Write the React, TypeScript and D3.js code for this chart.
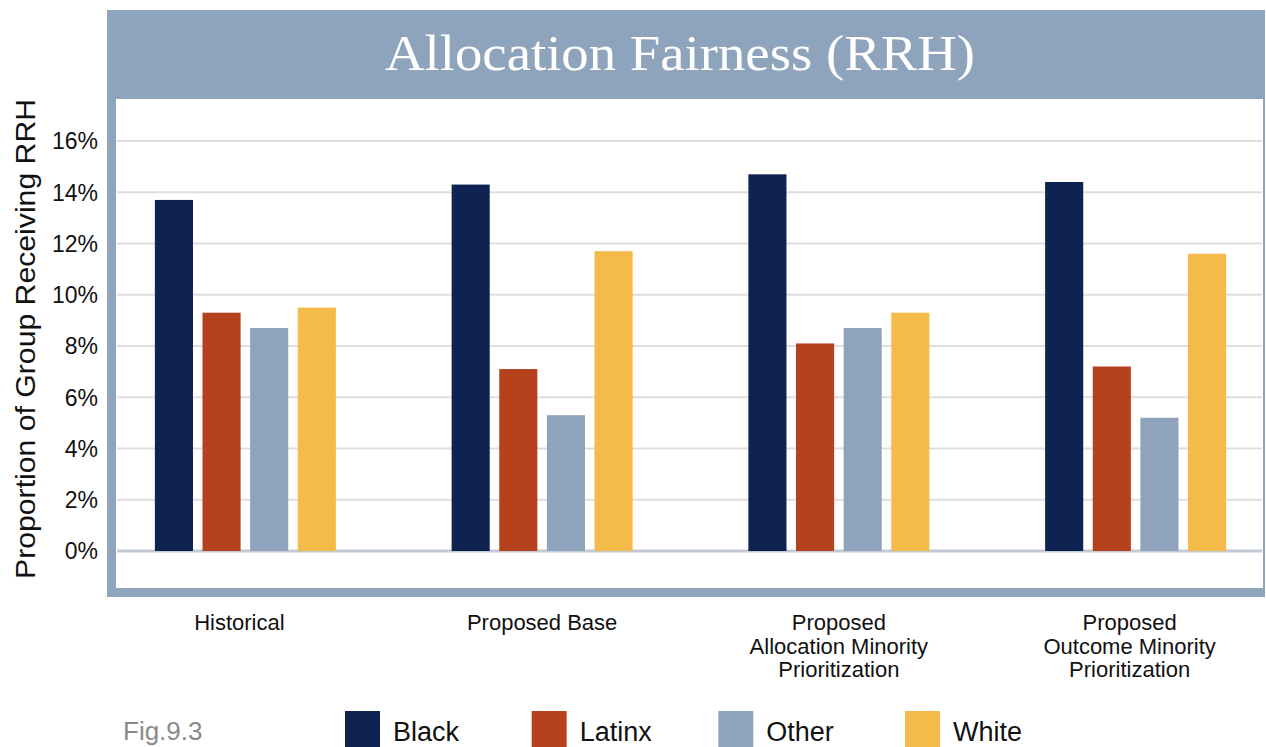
import { useEffect } from 'react';
import * as d3 from 'd3';

const categories = ['Historical', 'Proposed Base', 'Proposed Allocation Minority Prioritization', 'Proposed Outcome Minority Prioritization'];
const categoryLines = [
  ['Historical'],
  ['Proposed Base'],
  ['Proposed', 'Allocation Minority', 'Prioritization'],
  ['Proposed', 'Outcome Minority', 'Prioritization'],
];
const series = ['Black', 'Latinx', 'Other', 'White'];
const black = [13.7, 14.3, 14.7, 14.4];
const latinx = [9.3, 7.1, 8.1, 7.2];
const other = [8.7, 5.3, 8.7, 5.2];
const white = [9.5, 11.7, 9.3, 11.6];
const yTicks = [0, 2, 4, 6, 8, 10, 12, 14, 16];

const colors: Record<string, string> = {
  Black: '#0e2352',
  Latinx: '#b5421d',
  Other: '#8fa3bd',
  White: '#f4bb4a',
};

const values: Record<string, number[]> = { Black: black, Latinx: latinx, Other: other, White: white };

const W = 1266;
const H = 747;
const frameColor = '#8ea4bd';
const sans = '"Liberation Sans", Arial, sans-serif';

export default function App() {
  useEffect(() => {
    document.body.style.margin = '0';
  }, []);

  // plot area
  const y = d3.scaleLinear().domain([0, 16]).range([551, 141]);
  const x0 = d3.scaleBand<string>().domain(categories).range([97, 1284]);
  const groupW = 181;
  const x1 = d3.scaleBand<string>().domain(series).range([0, groupW]).paddingInner(0.2);
  const groupOffset = (x0.bandwidth() - groupW) / 2;

  const legendX = d3.scalePoint<string>().domain(series).range([345, 905]);

  return (
    <svg width={W} height={H} style={{ position: 'absolute', left: 0, top: 0, background: '#fff' }}>
      {/* frame + title band */}
      <rect x={107} y={10} width={1158} height={587} fill={frameColor} />
      <rect x={116} y={99} width={1147} height={489} fill="#fff" />
      <text
        x={680}
        y={70}
        fill="#fff"
        fontFamily='"Liberation Serif", "Times New Roman", serif'
        fontSize={51}
        textAnchor="middle"
        textLength={590}
        lengthAdjust="spacingAndGlyphs"
      >
        Allocation Fairness (RRH)
      </text>

      {/* gridlines */}
      {yTicks.map(t => (
        <line
          key={t}
          x1={117}
          x2={1262}
          y1={y(t)}
          y2={y(t)}
          stroke={t === 0 ? '#c3cad4' : '#dedede'}
          strokeWidth={t === 0 ? 3 : 2}
        />
      ))}

      {/* y tick labels */}
      {yTicks.map(t => (
        <text key={t} x={98} y={y(t)} dy="0.36em" textAnchor="end" fontFamily={sans} fontSize={23} fill="#111">
          {t}%
        </text>
      ))}

      {/* y axis title */}
      <text
        transform="translate(35,339) rotate(-90)"
        textAnchor="middle"
        fontFamily={sans}
        fontSize={28}
        fill="#111"
        textLength={480}
        lengthAdjust="spacingAndGlyphs"
      >
        Proportion of Group Receiving RRH
      </text>

      {/* bars */}
      {categories.map((c, i) => (
        <g key={c} transform={`translate(${(x0(c) ?? 0) + groupOffset},0)`}>
          {series.map(s => (
            <rect
              key={s}
              x={x1(s)}
              y={y(values[s][i])}
              width={x1.bandwidth()}
              height={y(0) - y(values[s][i])}
              fill={colors[s]}
            />
          ))}
        </g>
      ))}

      {/* category labels */}
      {categories.map((c, i) => {
        const cx = (x0(c) ?? 0) + x0.bandwidth() / 2 - (i === 0 || i === 3 ? 6 : 0);
        return (
          <text key={c} x={cx} y={630} textAnchor="middle" fontFamily={sans} fontSize={22} fill="#111">
            {categoryLines[i].map((line, j) => (
              <tspan key={j} x={cx} dy={j === 0 ? 0 : 23.5}>
                {line}
              </tspan>
            ))}
          </text>
        );
      })}

      {/* fig label */}
      <text x={123} y={740} fontFamily={sans} fontSize={26} fill="#8a8a8a">
        Fig.9.3
      </text>

      {/* legend */}
      {series.map(s => (
        <g key={s} transform={`translate(${legendX(s)},0)`}>
          <rect x={0} y={711} width={35} height={36} fill={colors[s]} />
          <text x={48} y={741} fontFamily={sans} fontSize={27} fill="#111">
            {s}
          </text>
        </g>
      ))}
    </svg>
  );
}
